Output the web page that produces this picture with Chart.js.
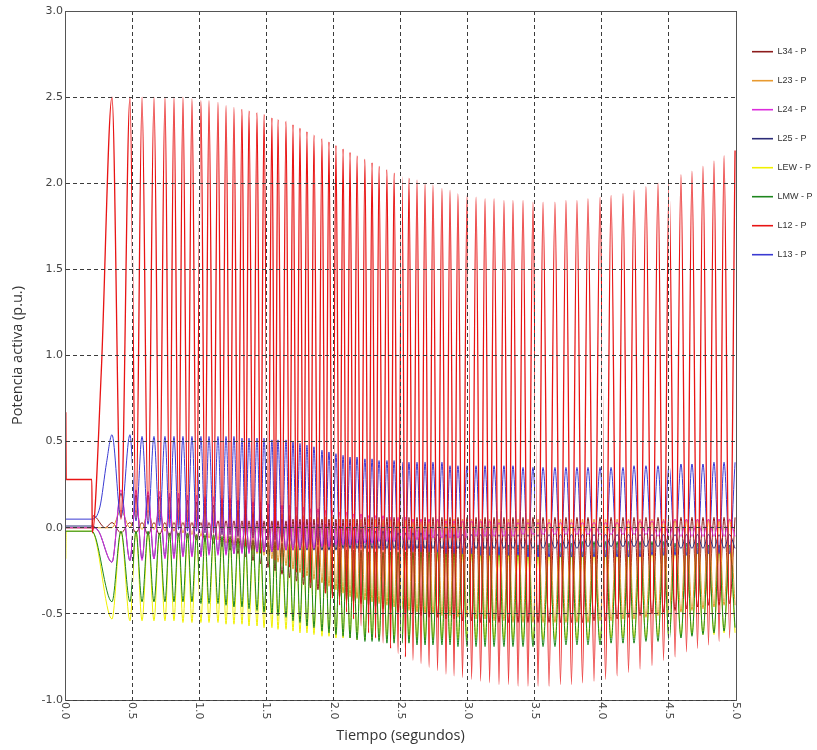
<!DOCTYPE html>
<html>
<head>
<meta charset="utf-8">
<script src="https://cdn.jsdelivr.net/npm/chart.js@4.4.1/dist/chart.umd.min.js"></script>
<style>
  html, body { margin: 0; padding: 0; background: #fff; }
  canvas { display: block; }
</style>
</head>
<body>
<canvas id="chart" width="817" height="750"></canvas>
<script>
// Axis tick labels
const xTickLabels = ['0.0','0.5','1.0','1.5','2.0','2.5','3.0','3.5','4.0','4.5','5.0'];
const yTickLabels = ['-1.0','-0.5','0.0','0.5','1.0','1.5','2.0','2.5','3.0'];

// Times (s) of the L12 swing maxima and minima
const crestTimes = [0.350,0.484,0.574,0.663,0.745,0.812,0.879,0.946,1.013,1.073,
  1.140,1.200,1.259,1.319,1.371,1.431,1.483,1.542,1.587,1.647,
  1.699,1.751,1.803,1.855,1.915,1.967,2.019,2.072,2.124,2.176,
  2.235,2.288,2.340,2.399,2.452,2.511,2.563,2.623,2.683,2.742,
  2.809,2.869,2.928,2.996,3.063,3.130,3.197,3.271,3.338,3.413,
  3.487,3.562,3.651,3.733,3.815,3.897,3.987,4.069,4.158,4.240,
  4.329,4.419,4.501,4.590,4.672,4.754,4.836,4.911,4.993];
const valleyTimes = [0.417,0.529,0.619,0.704,0.779,0.846,0.913,0.980,1.043,1.107,
  1.170,1.230,1.289,1.345,1.401,1.457,1.513,1.565,1.617,1.673,
  1.725,1.777,1.829,1.885,1.941,1.993,2.046,2.098,2.150,2.206,
  2.262,2.314,2.370,2.426,2.482,2.537,2.593,2.653,2.713,2.776,
  2.839,2.899,2.962,3.030,3.097,3.164,3.234,3.305,3.376,3.450,
  3.525,3.607,3.692,3.774,3.856,3.942,4.028,4.114,4.199,4.285,
  4.374,4.460,4.546,4.631,4.713,4.795,4.874,4.952];

// Pre-fault / fault portion of each trace: [time, value]
const l34Start = [[0,0.00],[0.2,0.00],[0.21,0.07],[0.30,0.00]];
const l23Start = [[0,0.00],[0.2,0.00]];
const l24Start = [[0,0.00],[0.2,0.00],[0.25,-0.02]];
const l25Start = [[0,0.01],[0.2,0.01],[0.25,-0.02]];
const lewStart = [[0.006,-0.18],[0.009,-0.02],[0.2,-0.02]];
const lmwStart = [[0,-0.02],[0.2,-0.02]];
const l12Start = [[0.006,0.67],[0.009,0.28],[0.2,0.28],[0.203,-0.03],[0.27,0.90]];
const l13Start = [[0,0.05],[0.2,0.05],[0.26,0.12],[0.31,0.38]];

// Values (p.u.) at crestTimes
const l34Crest = [0.03,0.03,0.03,0.03,0.03,0.03,0.03,0.03,0.03,0.03,
  0.04,0.04,0.04,0.04,0.04,0.04,0.04,0.04,0.04,0.04,
  0.05,0.05,0.05,0.05,0.05,0.05,0.05,0.05,0.05,0.05,
  0.06,0.06,0.06,0.06,0.06,0.06,0.06,0.06,0.06,0.06,
  0.06,0.06,0.06,0.06,0.06,0.06,0.06,0.06,0.06,0.06,
  0.06,0.06,0.06,0.06,0.06,0.06,0.06,0.06,0.06,0.06,
  0.06,0.06,0.06,0.06,0.06,0.06,0.06,0.06,0.06];
const l23Crest = [0.00,0.00,-0.01,-0.01,-0.02,-0.02,-0.03,-0.04,-0.05,-0.06,
  -0.07,-0.09,-0.10,-0.12,-0.13,-0.15,-0.16,-0.18,-0.20,-0.22,
  -0.24,-0.26,-0.28,-0.30,-0.32,-0.34,-0.36,-0.38,-0.40,-0.41,
  -0.42,-0.43,-0.44,-0.45,-0.46,-0.47,-0.48,-0.49,-0.50,-0.50,
  -0.51,-0.51,-0.52,-0.52,-0.53,-0.53,-0.54,-0.54,-0.55,-0.55,
  -0.55,-0.55,-0.55,-0.55,-0.55,-0.55,-0.54,-0.54,-0.53,-0.53,
  -0.52,-0.51,-0.50,-0.49,-0.48,-0.47,-0.46,-0.45,-0.45];
const l24Crest = [-0.20,-0.19,-0.19,-0.18,-0.18,-0.18,-0.17,-0.17,-0.17,-0.16,
  -0.16,-0.16,-0.15,-0.15,-0.15,-0.14,-0.14,-0.14,-0.13,-0.13,
  -0.13,-0.12,-0.12,-0.12,-0.11,-0.11,-0.10,-0.10,-0.10,-0.09,
  -0.09,-0.09,-0.08,-0.08,-0.08,-0.07,-0.07,-0.07,-0.07,-0.06,
  -0.06,-0.06,-0.06,-0.06,-0.05,-0.05,-0.05,-0.05,-0.05,-0.04,
  -0.04,-0.04,-0.04,-0.04,-0.04,-0.04,-0.04,-0.04,-0.04,-0.04,
  -0.04,-0.05,-0.05,-0.05,-0.05,-0.05,-0.05,-0.05,-0.05];
const l25Crest = [-0.20,-0.19,-0.18,-0.18,-0.17,-0.17,-0.16,-0.16,-0.16,-0.15,
  -0.15,-0.15,-0.15,-0.14,-0.14,-0.14,-0.14,-0.14,-0.13,-0.13,
  -0.13,-0.13,-0.13,-0.13,-0.13,-0.13,-0.13,-0.12,-0.12,-0.12,
  -0.12,-0.12,-0.12,-0.12,-0.12,-0.12,-0.12,-0.12,-0.12,-0.12,
  -0.12,-0.12,-0.12,-0.12,-0.12,-0.12,-0.12,-0.12,-0.12,-0.12,
  -0.12,-0.12,-0.12,-0.12,-0.12,-0.11,-0.11,-0.11,-0.11,-0.11,
  -0.11,-0.11,-0.11,-0.12,-0.12,-0.12,-0.12,-0.12,-0.12];
const lewCrest = [-0.53,-0.54,-0.54,-0.54,-0.54,-0.54,-0.55,-0.55,-0.55,-0.55,
  -0.55,-0.56,-0.56,-0.56,-0.57,-0.57,-0.58,-0.58,-0.59,-0.59,
  -0.60,-0.61,-0.61,-0.62,-0.63,-0.63,-0.64,-0.64,-0.64,-0.65,
  -0.65,-0.65,-0.65,-0.65,-0.65,-0.65,-0.65,-0.65,-0.65,-0.65,
  -0.65,-0.65,-0.65,-0.65,-0.65,-0.65,-0.65,-0.65,-0.65,-0.65,
  -0.65,-0.65,-0.65,-0.65,-0.65,-0.65,-0.65,-0.64,-0.64,-0.64,
  -0.64,-0.63,-0.63,-0.63,-0.62,-0.62,-0.62,-0.61,-0.61];
const lmwCrest = [-0.43,-0.43,-0.43,-0.43,-0.43,-0.43,-0.43,-0.43,-0.44,-0.44,
  -0.44,-0.45,-0.46,-0.46,-0.47,-0.48,-0.49,-0.50,-0.51,-0.52,
  -0.54,-0.55,-0.57,-0.58,-0.60,-0.61,-0.62,-0.63,-0.64,-0.65,
  -0.66,-0.66,-0.66,-0.67,-0.67,-0.67,-0.67,-0.68,-0.68,-0.68,
  -0.68,-0.68,-0.69,-0.69,-0.69,-0.69,-0.69,-0.69,-0.69,-0.69,
  -0.69,-0.69,-0.69,-0.68,-0.68,-0.68,-0.68,-0.67,-0.67,-0.67,
  -0.66,-0.66,-0.65,-0.64,-0.63,-0.62,-0.61,-0.60,-0.58];
const l12Crest = [2.50,2.50,2.50,2.50,2.50,2.50,2.50,2.49,2.48,2.48,
  2.47,2.45,2.44,2.43,2.42,2.41,2.40,2.38,2.37,2.36,
  2.34,2.32,2.30,2.28,2.26,2.24,2.22,2.20,2.18,2.16,
  2.14,2.12,2.10,2.08,2.06,2.04,2.03,2.02,2.00,1.99,
  1.97,1.96,1.94,1.93,1.92,1.91,1.91,1.90,1.90,1.90,
  1.89,1.89,1.89,1.90,1.90,1.91,1.92,1.93,1.94,1.96,
  1.98,2.00,2.02,2.05,2.07,2.10,2.13,2.16,2.19];
const l13Crest = [0.54,0.54,0.53,0.53,0.53,0.53,0.53,0.53,0.53,0.53,
  0.53,0.53,0.53,0.52,0.52,0.52,0.52,0.51,0.51,0.51,
  0.50,0.49,0.48,0.47,0.45,0.44,0.43,0.42,0.41,0.41,
  0.40,0.40,0.39,0.39,0.39,0.38,0.38,0.38,0.38,0.38,
  0.38,0.36,0.36,0.36,0.36,0.36,0.36,0.36,0.36,0.35,
  0.35,0.35,0.35,0.35,0.35,0.35,0.35,0.35,0.35,0.36,
  0.36,0.36,0.36,0.37,0.37,0.37,0.38,0.38,0.38];

// Values (p.u.) at valleyTimes
const l34Valley = [-0.03,-0.03,-0.04,-0.04,-0.05,-0.05,-0.06,-0.07,-0.08,-0.09,
  -0.11,-0.13,-0.15,-0.17,-0.19,-0.21,-0.23,-0.25,-0.27,-0.29,
  -0.31,-0.33,-0.35,-0.36,-0.38,-0.39,-0.40,-0.42,-0.43,-0.44,
  -0.45,-0.46,-0.47,-0.48,-0.49,-0.50,-0.50,-0.51,-0.52,-0.52,
  -0.53,-0.53,-0.54,-0.54,-0.55,-0.55,-0.55,-0.55,-0.55,-0.55,
  -0.55,-0.55,-0.55,-0.55,-0.55,-0.54,-0.54,-0.53,-0.52,-0.51,
  -0.50,-0.49,-0.48,-0.47,-0.46,-0.45,-0.45,-0.44];
const l23Valley = [0.10,0.10,0.10,0.10,0.10,0.10,0.10,0.10,0.10,0.10,
  0.10,0.09,0.09,0.09,0.09,0.08,0.08,0.08,0.08,0.07,
  0.07,0.07,0.06,0.06,0.06,0.06,0.05,0.05,0.05,0.05,
  0.05,0.05,0.05,0.05,0.05,0.05,0.05,0.05,0.05,0.05,
  0.05,0.05,0.05,0.05,0.05,0.05,0.05,0.05,0.05,0.05,
  0.05,0.05,0.05,0.05,0.05,0.05,0.05,0.05,0.05,0.05,
  0.05,0.05,0.05,0.05,0.05,0.05,0.05,0.05];
const l24Valley = [0.22,0.22,0.21,0.21,0.20,0.20,0.19,0.19,0.18,0.18,
  0.17,0.17,0.16,0.16,0.15,0.15,0.14,0.14,0.13,0.13,
  0.12,0.12,0.11,0.11,0.10,0.10,0.09,0.09,0.08,0.08,
  0.07,0.07,0.07,0.06,0.06,0.06,0.05,0.05,0.05,0.05,
  0.04,0.04,0.04,0.04,0.04,0.04,0.03,0.03,0.03,0.03,
  0.03,0.03,0.03,0.03,0.03,0.03,0.03,0.03,0.04,0.04,
  0.04,0.04,0.05,0.05,0.05,0.05,0.05,0.05];
const l25Valley = [0.20,0.19,0.19,0.18,0.18,0.17,0.16,0.15,0.14,0.13,
  0.12,0.11,0.10,0.09,0.08,0.08,0.07,0.06,0.05,0.05,
  0.04,0.03,0.03,0.02,0.02,0.01,0.01,0.00,0.00,-0.01,
  -0.01,-0.02,-0.02,-0.02,-0.03,-0.03,-0.03,-0.03,-0.04,-0.04,
  -0.04,-0.04,-0.04,-0.04,-0.04,-0.04,-0.04,-0.04,-0.04,-0.04,
  -0.04,-0.04,-0.04,-0.04,-0.04,-0.04,-0.04,-0.04,-0.04,-0.04,
  -0.04,-0.04,-0.04,-0.04,-0.04,-0.04,-0.04,-0.04];
const lewValley = [-0.02,-0.02,-0.03,-0.03,-0.03,-0.04,-0.04,-0.04,-0.05,-0.05,
  -0.06,-0.06,-0.07,-0.07,-0.08,-0.08,-0.09,-0.09,-0.10,-0.10,
  -0.11,-0.11,-0.12,-0.12,-0.13,-0.13,-0.14,-0.14,-0.14,-0.15,
  -0.15,-0.15,-0.15,-0.15,-0.15,-0.15,-0.15,-0.15,-0.15,-0.15,
  -0.15,-0.15,-0.15,-0.15,-0.15,-0.15,-0.15,-0.15,-0.15,-0.15,
  -0.15,-0.15,-0.14,-0.14,-0.14,-0.14,-0.13,-0.13,-0.13,-0.13,
  -0.13,-0.12,-0.12,-0.12,-0.12,-0.12,-0.12,-0.12];
const lmwValley = [-0.02,-0.02,-0.02,-0.03,-0.03,-0.03,-0.03,-0.04,-0.04,-0.04,
  -0.05,-0.05,-0.06,-0.06,-0.07,-0.07,-0.08,-0.08,-0.09,-0.09,
  -0.10,-0.10,-0.11,-0.11,-0.12,-0.12,-0.12,-0.13,-0.13,-0.13,
  -0.14,-0.14,-0.14,-0.14,-0.14,-0.14,-0.14,-0.13,-0.13,-0.13,
  -0.12,-0.12,-0.12,-0.12,-0.11,-0.11,-0.11,-0.10,-0.10,-0.10,
  -0.10,-0.09,-0.09,-0.09,-0.08,-0.08,-0.08,-0.08,-0.08,-0.08,
  -0.08,-0.08,-0.09,-0.09,-0.09,-0.10,-0.10,-0.10];
const l12Valley = [0.05,0.05,0.04,0.03,0.02,0.01,0.00,-0.01,-0.03,-0.04,
  -0.05,-0.07,-0.09,-0.11,-0.13,-0.15,-0.17,-0.19,-0.21,-0.23,
  -0.26,-0.29,-0.32,-0.35,-0.38,-0.41,-0.45,-0.49,-0.53,-0.57,
  -0.61,-0.64,-0.67,-0.70,-0.73,-0.75,-0.77,-0.79,-0.81,-0.83,
  -0.85,-0.86,-0.87,-0.88,-0.89,-0.90,-0.91,-0.91,-0.92,-0.92,
  -0.92,-0.92,-0.91,-0.91,-0.90,-0.89,-0.88,-0.86,-0.84,-0.82,
  -0.80,-0.77,-0.75,-0.72,-0.70,-0.68,-0.66,-0.64];
const l13Valley = [0.06,0.04,0.02,0.01,0.00,-0.01,-0.02,-0.02,-0.03,-0.03,
  -0.04,-0.04,-0.05,-0.05,-0.06,-0.06,-0.07,-0.07,-0.08,-0.08,
  -0.09,-0.09,-0.10,-0.10,-0.10,-0.11,-0.11,-0.11,-0.12,-0.12,
  -0.12,-0.12,-0.13,-0.13,-0.13,-0.13,-0.14,-0.14,-0.14,-0.14,
  -0.15,-0.15,-0.15,-0.15,-0.16,-0.16,-0.16,-0.16,-0.16,-0.17,
  -0.17,-0.17,-0.17,-0.17,-0.17,-0.17,-0.17,-0.17,-0.17,-0.17,
  -0.16,-0.16,-0.16,-0.16,-0.15,-0.15,-0.15,-0.15];

// Merge the start segment and the alternating crest/valley samples into {x, y} points
function tracePoints(start, crest, valley) {
  const pts = start.map(([x, y]) => ({ x, y }));
  crestTimes.forEach((t, k) => {
    if (crest[k] !== undefined) pts.push({ x: t, y: crest[k] });
    if (k < valleyTimes.length && valley[k] !== undefined) pts.push({ x: valleyTimes[k], y: valley[k] });
  });
  return pts;
}

// Legend order; `order` sets which trace is painted on top (lower = on top)
const traces = [
  { label: 'L34 - P', color: '#8c1c1c', order: 6, width: 1,   pts: tracePoints(l34Start, l34Crest, l34Valley) },
  { label: 'L23 - P', color: '#e89a30', order: 5, width: 1,   pts: tracePoints(l23Start, l23Crest, l23Valley) },
  { label: 'L24 - P', color: '#dc2cdc', order: 2, width: 1,   pts: tracePoints(l24Start, l24Crest, l24Valley) },
  { label: 'L25 - P', color: '#2c2c78', order: 3, width: 1,   pts: tracePoints(l25Start, l25Crest, l25Valley) },
  { label: 'LEW - P', color: '#f0f000', order: 7, width: 1,   pts: tracePoints(lewStart, lewCrest, lewValley) },
  { label: 'LMW - P', color: '#1e861e', order: 4, width: 1,   pts: tracePoints(lmwStart, lmwCrest, lmwValley) },
  { label: 'L12 - P', color: '#e81414', order: 0, width: 1.3, pts: tracePoints(l12Start, l12Crest, l12Valley) },
  { label: 'L13 - P', color: '#3a3ad2', order: 1, width: 1,   pts: tracePoints(l13Start, l13Crest, l13Valley) }
];

const GRID = '#3c3c3c';
const AXIS = '#555555';

// White backing under the vertical dashed grid lines (drawn above the traces)
const gridBacking = {
  id: 'gridBacking',
  afterDatasetsDraw(chart) {
    const { ctx, chartArea: a, scales: { x } } = chart;
    ctx.save();
    ctx.strokeStyle = '#ffffff';
    ctx.lineWidth = 1;
    xTickLabels.slice(1, -1).forEach(lbl => {
      const px = Math.round(x.getPixelForValue(parseFloat(lbl))) + 0.5;
      ctx.beginPath();
      ctx.moveTo(px, a.top);
      ctx.lineTo(px, a.bottom);
      ctx.stroke();
    });
    ctx.restore();
  }
};

// Nudge the legend column a few pixels toward the plot
const legendNudge = {
  id: 'legendNudge',
  afterLayout(chart) {
    if (chart.legend) { chart.legend.left -= 4; chart.legend.right -= 4; }
  }
};

// Plot frame (top / right edges) and x tick labels written top-to-bottom
const frameAndTicks = {
  id: 'frameAndTicks',
  afterDraw(chart) {
    const { ctx, chartArea: a, scales: { x } } = chart;
    ctx.save();
    ctx.strokeStyle = AXIS;
    ctx.lineWidth = 1;
    const top = Math.round(a.top) + 0.5, right = Math.round(a.right) + 0.5;
    ctx.beginPath();
    ctx.moveTo(Math.round(a.left), top);
    ctx.lineTo(right, top);
    ctx.lineTo(right, Math.round(a.bottom) + 0.5);
    ctx.stroke();

    ctx.fillStyle = '#444';
    ctx.font = '11px "DejaVu Sans"';
    ctx.textAlign = 'left';
    ctx.textBaseline = 'middle';
    xTickLabels.forEach(lbl => {
      const px = x.getPixelForValue(parseFloat(lbl));
      ctx.save();
      ctx.translate(px, a.bottom + 2);
      ctx.rotate(Math.PI / 2);
      ctx.fillText(lbl, 0, 0);
      ctx.restore();
    });
    ctx.restore();
  }
};

new Chart(document.getElementById('chart'), {
  type: 'line',
  data: {
    datasets: traces.map(t => ({
      label: t.label,
      data: t.pts,
      borderColor: t.color,
      backgroundColor: t.color,
      borderWidth: t.width,
      pointRadius: 0,
      fill: false,
      order: t.order,
      cubicInterpolationMode: 'monotone'
    }))
  },
  options: {
    responsive: false,
    animation: false,
    devicePixelRatio: 1,
    parsing: false,
    layout: { padding: { top: 11, right: 0, bottom: 0, left: 0 } },
    plugins: {
      tooltip: { enabled: false },
      legend: {
        position: 'right',
        align: 'start',
        maxWidth: 81,
        title: { display: true, text: '', font: { size: 1 }, padding: { top: 15, bottom: 0 } },
        labels: {
          usePointStyle: true,
          pointStyle: 'line',
          pointStyleWidth: 21,
          padding: 20,
          color: '#333',
          font: { family: '"Liberation Sans", Arial, sans-serif', size: 9 },
          sort: (a, b) => a.datasetIndex - b.datasetIndex,
          generateLabels: chart => Chart.defaults.plugins.legend.labels.generateLabels(chart)
            .map(item => Object.assign(item, { lineWidth: 1.6 }))
        }
      }
    },
    scales: {
      x: {
        type: 'linear',
        min: 0,
        max: 5,
        afterBuildTicks: s => { s.ticks = xTickLabels.map(l => ({ value: parseFloat(l) })); },
        afterFit: s => { s.height = 50; },
        ticks: { display: false },
        grid: { color: GRID, lineWidth: 1, drawTicks: false, z: 1 },
        border: { display: true, color: AXIS, width: 1, dash: [4, 3], z: 1 },
        title: {
          display: true,
          text: 'Tiempo (segundos)',
          color: '#333',
          font: { family: '"Open Sans", sans-serif', size: 14.5 },
          padding: { top: 0, bottom: 5 }
        }
      },
      y: {
        type: 'linear',
        min: -1,
        max: 3,
        afterBuildTicks: s => { s.ticks = yTickLabels.map(l => ({ value: parseFloat(l) })); },
        afterFit: s => { s.width = 65; },
        ticks: {
          color: '#444',
          padding: 2,
          font: { family: '"DejaVu Sans", sans-serif', size: 11 },
          callback: v => yTickLabels.find(l => parseFloat(l) === v)
        },
        grid: { color: GRID, lineWidth: 1, drawTicks: false, z: 1 },
        border: { display: true, color: AXIS, width: 1, dash: [4, 3], z: 1 },
        title: {
          display: true,
          text: 'Potencia activa (p.u.)',
          color: '#333',
          font: { family: '"Open Sans", sans-serif', size: 14.5 },
          padding: { top: 9, bottom: 0 }
        }
      }
    }
  },
  plugins: [gridBacking, legendNudge, frameAndTicks]
});
</script>
</body>
</html>
